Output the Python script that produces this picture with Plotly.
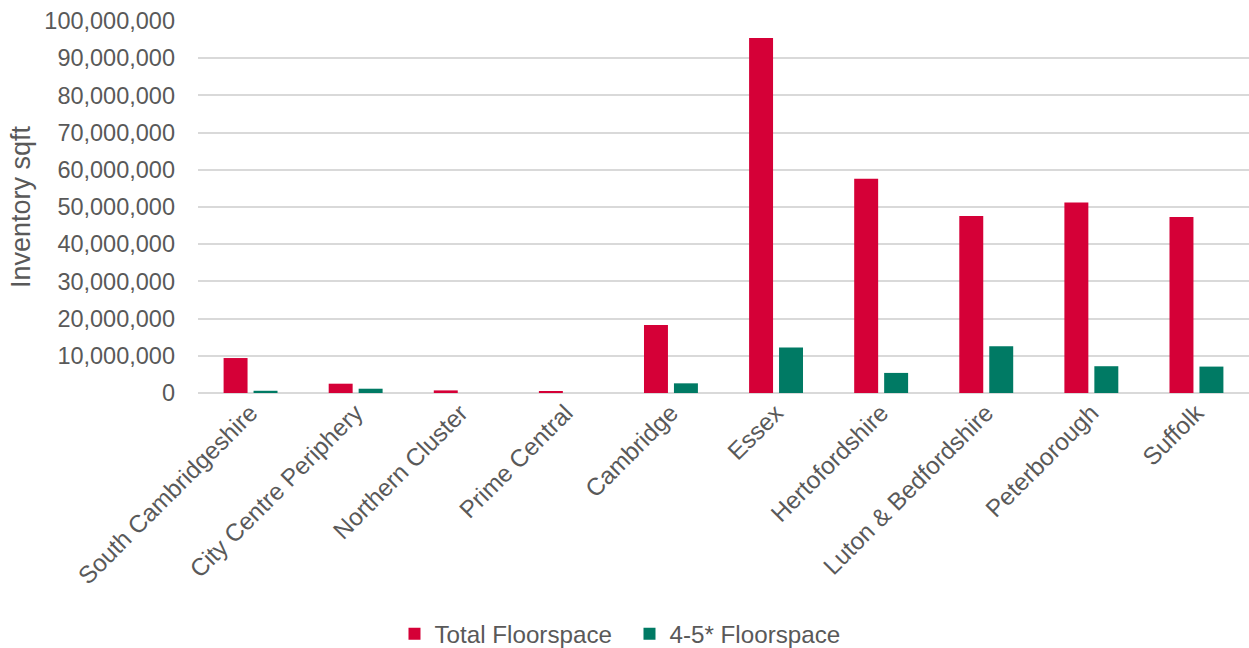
import plotly.graph_objects as go

regions = [
    "South Cambridgeshire", "City Centre Periphery", "Northern Cluster",
    "Prime Central", "Cambridge", "Essex", "Hertofordshire",
    "Luton & Bedfordshire", "Peterborough", "Suffolk",
]
total_floorspace = [9400000, 2500000, 700000, 350000, 18300000,
                    95400000, 57600000, 47600000, 51200000, 47300000]
grade_a_floorspace = [600000, 1150000, 0, 0, 2600000,
                      12200000, 5400000, 12600000, 7200000, 7100000]
y_ticks = list(range(0, 100000001, 10000000))

RED = "#D50037"
GREEN = "#007A64"
TEXT = "#595959"
FONT = "Liberation Sans, Arial, sans-serif"

fig = go.Figure()
fig.add_trace(go.Bar(name="Total Floorspace", x=regions, y=total_floorspace,
                     marker=dict(color=RED, line=dict(width=0))))
fig.add_trace(go.Bar(name="4-5* Floorspace", x=regions, y=grade_a_floorspace,
                     marker=dict(color=GREEN, line=dict(width=0))))

fig.update_layout(
    width=1249, height=648,
    margin=dict(l=198, r=0, t=21, b=255),
    paper_bgcolor="white", plot_bgcolor="white",
    font=dict(family=FONT, size=23.5, color=TEXT),
    barmode="group", bargap=0.43, bargroupgap=0.2,
    showlegend=True,
    legend=dict(orientation="h", xref="container", yref="container",
                x=0.504, xanchor="center", y=0.0216, yanchor="middle",
                font=dict(size=24.2, color=TEXT),
                itemwidth=30, entrywidth=190, traceorder="normal"),
)
fig.update_yaxes(
    range=[0, 100000000], tickvals=y_ticks, tickformat=",d",
    showgrid=True, gridcolor="#D9D9D9", gridwidth=2,
    zeroline=True, zerolinecolor="#D9D9D9", zerolinewidth=2,
    showline=False, ticks="", ticklabelstandoff=22,
    tickfont=dict(size=23.5, color=TEXT),
    title=dict(text="Inventory sqft", font=dict(size=27, color=TEXT), standoff=5),
    automargin=False,
)
fig.update_xaxes(
    tickangle=-45, tickfont=dict(size=24.3, color=TEXT),
    showline=False, ticks="", automargin=False,
)

fig.write_html("out.html")
